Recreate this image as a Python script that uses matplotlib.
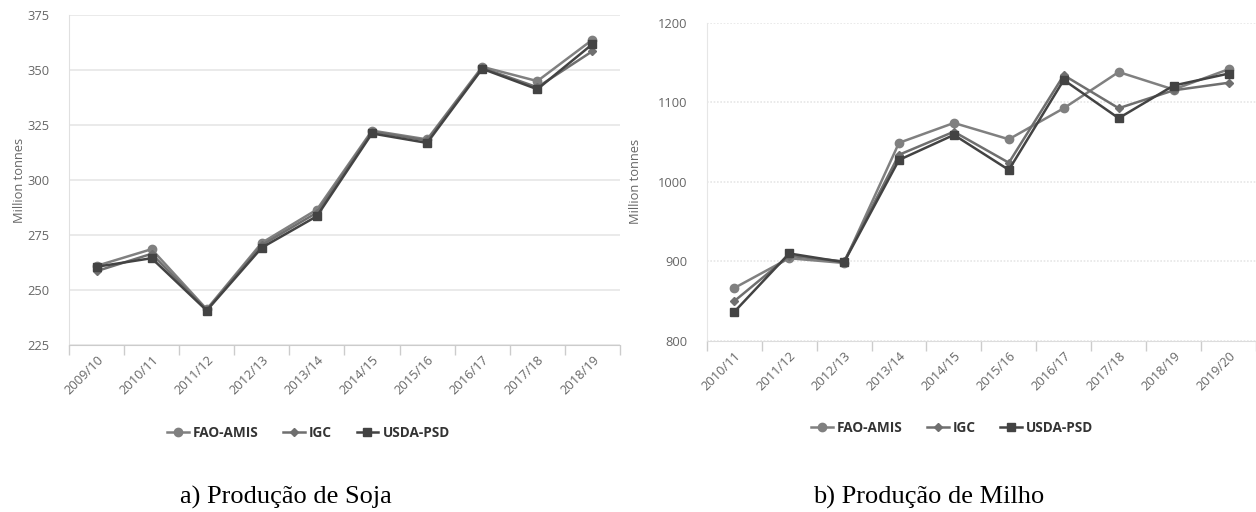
import matplotlib
matplotlib.use("Agg")
import matplotlib.pyplot as plt
import numpy as np

# soy (left panel)
soy_years = ["2009/10", "2010/11", "2011/12", "2012/13", "2013/14",
             "2014/15", "2015/16", "2016/17", "2017/18", "2018/19"]
soy_fao = [261.0, 268.6, 241.3, 271.5, 286.6, 322.5, 318.5, 351.5, 345.0, 363.8]
soy_igc = [258.6, 266.5, 241.0, 270.5, 285.2, 322.0, 318.0, 351.0, 342.2, 358.6]
soy_usda = [260.6, 264.5, 240.7, 269.3, 283.6, 321.2, 316.9, 350.6, 341.3, 361.8]

# maize (right panel)
maize_years = ["2010/11", "2011/12", "2012/13", "2013/14", "2014/15",
               "2015/16", "2016/17", "2017/18", "2018/19", "2019/20"]
maize_fao = [866.5, 904.0, 898.0, 1049.0, 1074.0, 1053.5, 1092.5, 1138.0, 1116.0, 1141.5]
maize_igc = [850.0, 907.0, 900.0, 1034.0, 1063.0, 1024.0, 1134.0, 1092.5, 1115.0, 1124.5]
maize_usda = [836.5, 910.0, 899.0, 1027.5, 1059.0, 1015.0, 1128.0, 1080.0, 1121.0, 1136.0]

series_names = ["FAO-AMIS", "IGC", "USDA-PSD"]
series_colors = ["#808080", "#6f6f6f", "#434343"]
series_markers = ["o", "D", "s"]
series_msize = [6.0, 4.2, 6.2]

label_color = "#666666"
grid_color = "#e6e6e6"
axis_color = "#cccccc"

fig = plt.figure(figsize=(12.56, 5.12), dpi=100)


def draw_panel(ax, years, values, ylim, yticks, xlim, dotted):
    x = np.arange(len(years))
    for vals, name, col, mk, ms in zip(values, series_names, series_colors,
                                       series_markers, series_msize):
        ax.plot(x, vals, color=col, marker=mk, markersize=ms, linewidth=1.8,
                label=name, clip_on=False, zorder=3)
    ax.set_ylim(ylim)
    ax.set_xlim(xlim)
    ax.set_yticks(yticks)
    ax.set_xticks(x)
    ax.set_xticklabels(years, rotation=45, ha="right", rotation_mode="anchor",
                       fontsize=9.3, color=label_color, family="Open Sans")
    ax.set_xticks(np.arange(-0.5, len(years), 1.0), minor=True)
    ax.tick_params(axis="x", which="major", length=0, pad=6)
    ax.tick_params(axis="x", which="minor", length=7.5, color=axis_color, width=1)
    ax.tick_params(axis="y", length=0, pad=14, labelsize=9.3, labelcolor=label_color)
    for lab in ax.get_yticklabels():
        lab.set_family("Open Sans")
    ls = (0, (1, 1)) if dotted else "-"
    ax.yaxis.grid(True, color=grid_color, linewidth=1.2, linestyle=ls)
    ax.set_axisbelow(True)
    for s in ["top", "right"]:
        ax.spines[s].set_visible(False)
    ax.spines["left"].set_color(grid_color if dotted else "#e0e0e0")
    ax.spines["left"].set_linestyle(ls)
    ax.spines["bottom"].set_color(axis_color if not dotted else "#dddddd")
    ax.spines["bottom"].set_linestyle(ls)
    ax.set_ylabel("Million tonnes", fontsize=9.3, color=label_color,
                  family="Open Sans", labelpad=8)


ax1 = fig.add_axes([0.0549, 0.326, 0.4387, 0.6445])
draw_panel(ax1, soy_years, [soy_fao, soy_igc, soy_usda], (225, 375),
           np.arange(225, 376, 25), (-0.5, 9.5), False)
ax1.yaxis.set_label_coords(-0.078, 0.5)

ax2 = fig.add_axes([0.5627, 0.334, 0.4373, 0.6217])
draw_panel(ax2, maize_years, [maize_fao, maize_igc, maize_usda], (800, 1200),
           np.arange(800, 1201, 100), (-0.485, 9.16), True)
ax2.yaxis.set_label_coords(-0.118, 0.5)

leg_props = {"weight": "bold", "size": 9.8, "family": "Open Sans"}
for ax, pos in [(ax1, (0.2455, 0.154)), (ax2, (0.758, 0.164))]:
    h, l = ax.get_legend_handles_labels()
    leg = fig.legend(h, l, loc="center", bbox_to_anchor=pos, ncol=3, frameon=False,
                     prop=leg_props, handlelength=1.6, handletextpad=0.3,
                     columnspacing=1.8)
    for t in leg.get_texts():
        t.set_color("#333333")

fig.text(0.2277, 0.029, "a) Produção de Soja", ha="center", va="center",
         fontsize=19, family="Liberation Serif", color="black")
fig.text(0.7397, 0.029, "b) Produção de Milho", ha="center", va="center",
         fontsize=19, family="Liberation Serif", color="black")

fig.savefig("out.png", dpi=100)
